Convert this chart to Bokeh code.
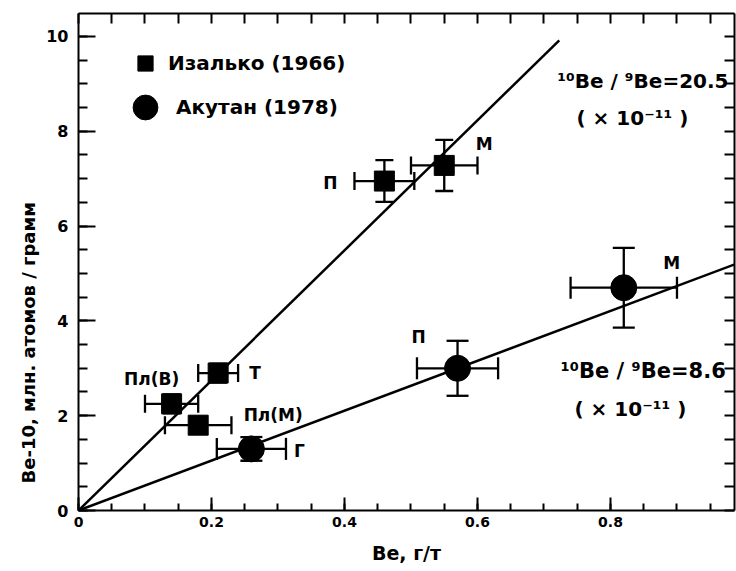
import math
from bokeh.plotting import figure
from bokeh.models import (ColumnDataSource, Whisker, TeeHead, Legend, LegendItem,
                          LinearAxis, FixedTicker, Label, Range1d, Title)
from bokeh.core.properties import value
from bokeh.embed import file_html
from bokeh.resources import INLINE

# ---------------- data ----------------
# Izalco (1966) - squares
iz_x = [0.14, 0.18, 0.21, 0.46, 0.55]
iz_y = [2.25, 1.80, 2.90, 6.95, 7.28]
iz_xerr = [0.040, 0.050, 0.030, 0.045, 0.050]
iz_yerr = [0.20, 0.18, 0.20, 0.44, 0.54]
iz_names = ["Пл(В)", "Пл(М)", "Т", "П", "М"]

# Akutan (1978) - circles
ak_x = [0.26, 0.57, 0.82]
ak_y = [1.30, 3.00, 4.70]
ak_xerr = [0.052, 0.061, 0.080]
ak_yerr = [0.25, 0.58, 0.84]
ak_names = ["Г", "П", "М"]

# fitted lines through the origin (end points)
iz_fit_x = [0.0, 0.723]
iz_fit_y = [0.0, 9.92]
ak_fit_x = [0.0, 0.99]
ak_fit_y = [0.0, 5.21]

x_major = [0.0, 0.2, 0.4, 0.6, 0.8]
x_minor = [0.0, 0.05, 0.1, 0.15, 0.2, 0.25, 0.3, 0.35, 0.4, 0.45, 0.5,
           0.55, 0.6, 0.65, 0.7, 0.75, 0.8, 0.85, 0.9, 0.95]
y_major = [0, 2, 4, 6, 8, 10]
y_minor = [0, 0.5, 1, 1.5, 2, 2.5, 3, 3.5, 4, 4.5, 5, 5.5, 6, 6.5, 7, 7.5,
           8, 8.5, 9, 9.5, 10, 10.5]

legend_iz = "Изалько (1966)"
legend_ak = "Акутан (1978)"
ratio_iz = "¹⁰Be / ⁹Be=20.5"
ratio_ak = "¹⁰Be / ⁹Be=8.6"
ratio_unit = "( × 10⁻¹¹ )"
x_title = "Be, г/т"
y_title = "Be-10, млн. атомов / грамм"

# ---------------- styles ----------------
FONT = "DejaVu Sans"
INK = "black"
iz_dx = [-20, 75, 37, -54, 40]
iz_dy = [-25, -10, 0, 2, -21]
ak_dx = [48, -39, 48]
ak_dy = [2, -31, -25]

p = figure(width=736, height=571,
           x_range=Range1d(0, 0.9865), y_range=Range1d(0, 10.485),
           output_backend="svg", toolbar_location=None,
           min_border_left=78, min_border_right=2,
           min_border_top=13, min_border_bottom=61)
p.grid.visible = False
p.outline_line_color = None
p.background_fill_color = "white"
p.border_fill_color = "white"

# bottom axis
xa = p.xaxis[0]
xa.ticker = FixedTicker(ticks=x_major, minor_ticks=x_minor)
xa.major_tick_in = 13
xa.major_tick_out = 0
xa.minor_tick_in = 7
xa.minor_tick_out = 0
xa.axis_line_width = 2
xa.axis_line_color = INK
xa.major_tick_line_width = 2
xa.minor_tick_line_width = 2
xa.major_tick_line_color = INK
xa.minor_tick_line_color = INK
xa.major_label_text_font = FONT
xa.major_label_text_font_style = "bold"
xa.major_label_text_font_size = "14px"
xa.major_label_text_color = INK
xa.major_label_standoff = 6
xa.major_label_overrides = {0.0: "0", 0.2: "0.2", 0.4: "0.4", 0.6: "0.6", 0.8: "0.8"}
xa.axis_label = x_title
xa.axis_label_text_font = FONT
xa.axis_label_text_font_style = "bold"
xa.axis_label_text_font_size = "19px"
xa.axis_label_text_color = INK
xa.axis_label_standoff = 12

# left axis
ya = p.yaxis[0]
ya.ticker = FixedTicker(ticks=y_major, minor_ticks=y_minor)
ya.major_tick_in = 17
ya.major_tick_out = 0
ya.minor_tick_in = 9
ya.minor_tick_out = 0
ya.axis_line_width = 2
ya.axis_line_color = INK
ya.major_tick_line_width = 2
ya.minor_tick_line_width = 2
ya.major_tick_line_color = INK
ya.minor_tick_line_color = INK
ya.major_label_text_font = FONT
ya.major_label_text_font_style = "bold"
ya.major_label_text_font_size = "16px"
ya.major_label_text_color = INK
ya.major_label_standoff = 10

# top and right frame axes (ticks only, no labels)
top = LinearAxis(ticker=FixedTicker(ticks=[], minor_ticks=x_minor),
                 major_tick_in=0, major_tick_out=0, minor_tick_in=10, minor_tick_out=0,
                 axis_line_width=2, minor_tick_line_width=2,
                 axis_line_color=INK, minor_tick_line_color=INK)
right = LinearAxis(ticker=FixedTicker(ticks=[], minor_ticks=y_minor),
                   major_tick_in=0, major_tick_out=0, minor_tick_in=10, minor_tick_out=0,
                   axis_line_width=2, minor_tick_line_width=2,
                   axis_line_color=INK, minor_tick_line_color=INK)
p.add_layout(top, "above")
p.add_layout(right, "right")

# y title as a side title so that it can be shifted along the axis
p.add_layout(Title(text=y_title, align="left", offset=27, text_font=FONT,
                   text_font_style="bold", text_font_size="18px",
                   text_color=INK), "left")

# fitted lines
p.line(iz_fit_x, iz_fit_y, line_color=INK, line_width=2.5)
p.line(ak_fit_x, ak_fit_y, line_color=INK, line_width=2.5)

# sources
src_iz = ColumnDataSource(dict(
    x=iz_x, y=iz_y,
    xl=[a - e for a, e in zip(iz_x, iz_xerr)], xu=[a + e for a, e in zip(iz_x, iz_xerr)],
    yl=[a - e for a, e in zip(iz_y, iz_yerr)], yu=[a + e for a, e in zip(iz_y, iz_yerr)],
    name=iz_names, dx=iz_dx, dy=iz_dy))
src_ak = ColumnDataSource(dict(
    x=ak_x, y=ak_y,
    xl=[a - e for a, e in zip(ak_x, ak_xerr)], xu=[a + e for a, e in zip(ak_x, ak_xerr)],
    yl=[a - e for a, e in zip(ak_y, ak_yerr)], yu=[a + e for a, e in zip(ak_y, ak_yerr)],
    name=ak_names, dx=ak_dx, dy=ak_dy))

def add_whiskers(src, cap):
    for dim, base, lo, up in (("width", "y", "xl", "xu"), ("height", "x", "yl", "yu")):
        w = Whisker(source=src, base=base, lower=lo, upper=up, dimension=dim,
                    line_width=2.3, line_color=INK,
                    upper_head=TeeHead(size=cap, line_width=2.3, line_color=INK),
                    lower_head=TeeHead(size=cap, line_width=2.3, line_color=INK))
        p.add_layout(w)

add_whiskers(src_iz, 18)
add_whiskers(src_ak, 22)

sq = p.scatter("x", "y", source=src_iz, marker="square", size=20,
               fill_color=INK, line_color=INK)
ci = p.scatter("x", "y", source=src_ak, marker="circle", size=26,
               fill_color=INK, line_color=INK)

for src in (src_iz, src_ak):
    p.text(x="x", y="y", text="name", x_offset="dx", y_offset="dy", source=src,
           text_font=value(FONT), text_font_style="bold", text_font_size="17px",
           text_align="center", text_baseline="middle", text_color=INK)

# legends (two, so that the marker sizes differ as in the original)
leg_kw = dict(padding=0, margin=0, spacing=0,
              border_line_alpha=0, background_fill_alpha=0,
              label_text_font=FONT, label_text_font_style="bold",
              label_text_font_size="20px", label_text_color=INK)
leg1 = Legend(items=[LegendItem(label=legend_iz, renderers=[sq])],
              location=(48, 428), glyph_width=38, glyph_height=38,
              label_standoff=4, label_height=38, **leg_kw)
leg2 = Legend(items=[LegendItem(label=legend_ak, renderers=[ci])],
              location=(36, 372), glyph_width=62, glyph_height=62,
              label_standoff=-8, label_height=62, **leg_kw)
p.add_layout(leg1)
p.add_layout(leg2)

# ratio annotations
lab_kw = dict(text_font=FONT, text_font_style="bold", text_color=INK,
              text_baseline="middle")
p.add_layout(Label(x=0.720, y=9.07, text=ratio_iz, text_align="left",
                   text_font_size="20px", **lab_kw))
p.add_layout(Label(x=0.833, y=8.29, text=ratio_unit, text_align="center",
                   text_font_size="20px", **lab_kw))
p.add_layout(Label(x=0.725, y=2.95, text=ratio_ak, text_align="left",
                   text_font_size="21px", **lab_kw))
p.add_layout(Label(x=0.830, y=2.15, text=ratio_unit, text_align="center",
                   text_font_size="20px", **lab_kw))

open("out.html", "w").write(file_html(p, INLINE))
